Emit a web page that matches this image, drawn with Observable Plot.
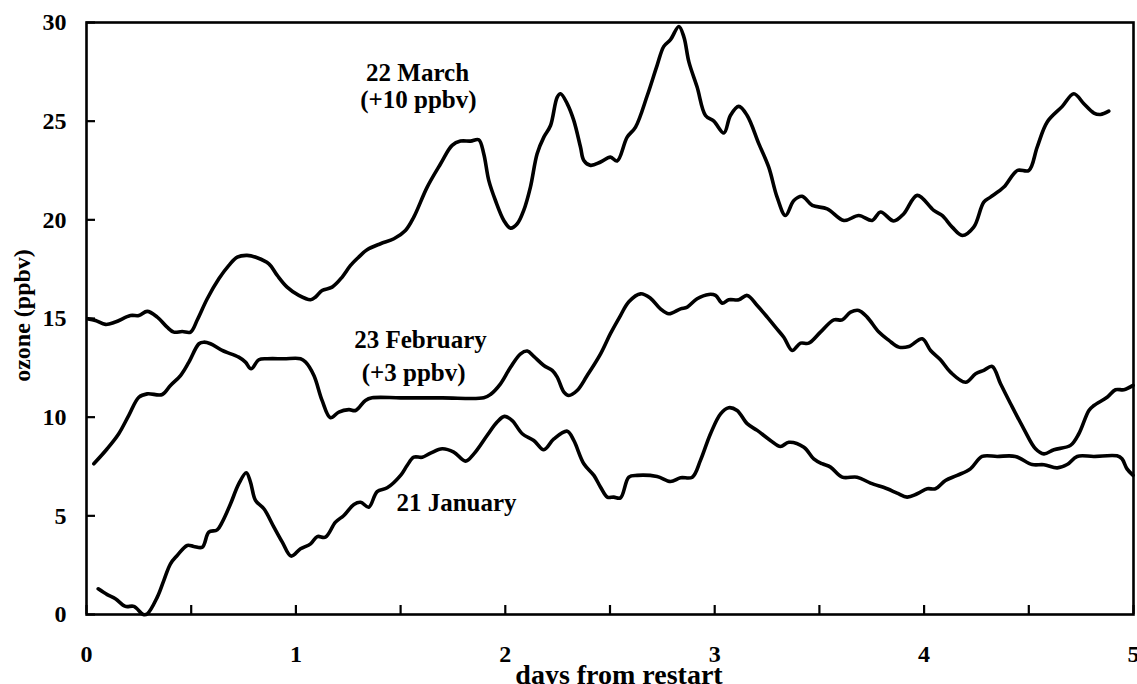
<!DOCTYPE html>
<html>
<head>
<meta charset="utf-8">
<script src="https://cdn.jsdelivr.net/npm/d3@7"></script>
<script src="https://cdn.jsdelivr.net/npm/@observablehq/plot@0.6"></script>
<style>
  html, body { margin: 0; padding: 0; background: #fff; }
  #chart svg { display: block; }
</style>
</head>
<body>
<div id="chart"></div>
<script>
// Days from restart (x) and ozone in ppbv (y), as plotted (Feb shifted +3, Mar shifted +10)
const janX = [0.056,0.099,0.138,0.186,0.226,0.271,0.290,0.338,0.369,0.401,0.433,0.481,0.512,0.553,0.584,0.624,0.648,0.688,0.727,0.763,0.783,0.807,0.847,0.895,0.935,0.977,1.022,1.070,1.102,1.141,1.189,1.229,1.277,1.309,1.348,1.388,1.436,1.500,1.531,1.563,1.603,1.643,1.699,1.754,1.810,1.850,1.913,1.961,1.996,2.033,2.081,2.136,2.184,2.232,2.296,2.327,2.375,2.423,2.455,2.487,2.518,2.550,2.590,2.630,2.725,2.789,2.837,2.893,2.932,2.980,3.028,3.067,3.107,3.155,3.203,3.266,3.314,3.354,3.426,3.473,3.513,3.553,3.609,3.680,3.744,3.824,3.871,3.919,3.967,4.015,4.054,4.102,4.158,4.221,4.277,4.349,4.436,4.516,4.572,4.636,4.683,4.731,4.811,4.921,4.945,4.969,4.998];
const janY = [1.30,1.01,0.80,0.41,0.41,0.00,0.03,0.88,1.72,2.57,2.99,3.50,3.45,3.41,4.17,4.29,4.68,5.61,6.62,7.18,6.71,5.78,5.36,4.43,3.67,2.96,3.33,3.58,3.95,3.92,4.68,5.02,5.58,5.69,5.44,6.23,6.42,7.05,7.55,7.97,7.97,8.18,8.40,8.23,7.77,8.14,9.07,9.75,10.04,9.83,9.16,8.82,8.35,8.90,9.29,8.82,7.64,7.05,6.45,5.95,5.95,5.91,6.96,7.05,6.99,6.74,6.93,6.96,7.81,9.16,10.17,10.48,10.34,9.67,9.33,8.82,8.51,8.73,8.48,7.89,7.64,7.47,6.96,6.96,6.66,6.37,6.15,5.95,6.12,6.37,6.37,6.79,7.05,7.38,8.01,8.01,8.01,7.60,7.59,7.43,7.60,8.01,8.01,8.04,7.89,7.38,7.05];

const febX = [0.035,0.099,0.154,0.202,0.250,0.290,0.362,0.401,0.449,0.489,0.537,0.560,0.592,0.648,0.727,0.759,0.786,0.823,0.863,0.942,1.022,1.046,1.086,1.125,1.165,1.205,1.253,1.285,1.332,1.364,1.500,1.700,1.897,1.929,1.977,2.025,2.073,2.105,2.136,2.184,2.224,2.248,2.280,2.303,2.343,2.391,2.455,2.502,2.550,2.590,2.646,2.693,2.741,2.781,2.837,2.869,2.916,2.972,3.004,3.036,3.067,3.115,3.155,3.203,3.251,3.290,3.330,3.370,3.410,3.449,3.505,3.569,3.609,3.649,3.688,3.728,3.784,3.832,3.879,3.927,3.991,4.031,4.078,4.126,4.198,4.246,4.285,4.325,4.365,4.413,4.476,4.532,4.572,4.620,4.699,4.739,4.787,4.811,4.874,4.914,4.954,4.998];
const febY = [7.64,8.40,9.16,10.09,11.01,11.18,11.15,11.61,12.11,12.79,13.72,13.80,13.72,13.38,13.04,12.79,12.45,12.91,12.96,12.96,12.96,12.79,12.11,10.85,9.97,10.26,10.38,10.34,10.85,10.98,10.98,10.98,10.98,11.15,11.69,12.53,13.21,13.35,13.08,12.62,12.37,12.03,11.27,11.10,11.35,12.11,13.21,14.23,15.15,15.85,16.25,16.03,15.49,15.24,15.49,15.58,16.00,16.22,16.17,15.78,15.95,15.95,16.17,15.66,15.07,14.56,14.05,13.38,13.75,13.75,14.31,14.93,14.93,15.32,15.41,15.07,14.31,13.89,13.55,13.58,13.97,13.38,12.91,12.28,11.77,12.20,12.37,12.57,11.69,10.68,9.41,8.40,8.14,8.35,8.57,9.16,10.34,10.59,11.01,11.39,11.39,11.61];

const marX = [0.008,0.043,0.091,0.138,0.210,0.250,0.290,0.338,0.385,0.417,0.457,0.497,0.530,0.576,0.632,0.680,0.720,0.767,0.815,0.871,0.911,0.958,1.014,1.070,1.094,1.125,1.173,1.221,1.261,1.300,1.340,1.404,1.468,1.523,1.563,1.627,1.691,1.746,1.786,1.834,1.873,1.897,1.921,1.953,1.993,2.025,2.057,2.088,2.120,2.152,2.184,2.216,2.248,2.264,2.296,2.327,2.359,2.375,2.407,2.455,2.502,2.534,2.582,2.622,2.678,2.725,2.757,2.789,2.829,2.853,2.877,2.916,2.956,2.996,3.044,3.075,3.115,3.155,3.211,3.258,3.298,3.338,3.378,3.418,3.466,3.537,3.617,3.688,3.752,3.792,3.855,3.903,3.967,4.046,4.086,4.134,4.182,4.237,4.285,4.317,4.381,4.445,4.500,4.540,4.588,4.660,4.715,4.763,4.811,4.842,4.882];
const marY = [14.98,14.90,14.70,14.82,15.15,15.15,15.36,15.07,14.56,14.31,14.34,14.31,14.95,15.99,17.01,17.69,18.11,18.20,18.08,17.77,17.18,16.59,16.17,15.95,16.09,16.42,16.59,17.10,17.69,18.11,18.48,18.79,19.04,19.46,20.14,21.66,22.84,23.77,23.99,23.99,24.06,23.35,22.00,20.98,19.97,19.58,19.80,20.48,21.66,23.35,24.19,24.78,26.22,26.39,25.88,25.04,23.69,23.01,22.76,22.93,23.18,22.98,24.19,24.70,26.30,27.83,28.79,29.13,29.80,29.26,27.99,26.73,25.29,25.00,24.40,25.29,25.75,25.29,23.85,22.67,21.15,20.22,20.98,21.19,20.73,20.56,19.97,20.22,19.97,20.40,19.94,20.31,21.24,20.48,20.22,19.63,19.21,19.63,20.90,21.15,21.66,22.50,22.50,23.69,24.96,25.75,26.39,25.88,25.41,25.34,25.51];

const seriesNames = ["21 January", "23 February", "22 March"];

// Axis ticks and labels
const xTickVals = [0, 0.5, 1, 1.5, 2, 2.5, 3, 3.5, 4, 4.5, 5];
const xLabelVals = [0, 1, 2, 3, 4, 5];
const yTickVals = [0, 5, 10, 15, 20, 25, 30];

// In-plot annotations (one entry per text line)
const noteText = ["22 March", "(+10 ppbv)", "23 February", "(+3 ppbv)", "21 January"];
const noteX = [1.581, 1.585, 1.595, 1.562, 1.767];
const noteY = [27.03, 25.65, 13.48, 11.85, 5.22];

const xTitle = "days from restart";
const yTitle = "ozone (ppbv)";

const lineData = [];
[[janX, janY], [febX, febY], [marX, marY]].forEach(([xs, ys], i) => {
  xs.forEach((x, j) => lineData.push({series: seriesNames[i], x, y: ys[j]}));
});
const notes = noteText.map((t, i) => ({t, x: noteX[i], y: noteY[i]}));

const W = 1137, H = 684, ML = 86, MR = 4, MT = 22, MB = 70;
const xDomain = [0, 5], yDomain = [0, 30];
const frameW = W - ML - MR, frameH = H - MT - MB, tickLen = 9;
// tick length converted to data units so the rules are placed through the scales
const xTickLenData = tickLen * (xDomain[1] - xDomain[0]) / frameW;
const yTickLenData = tickLen * (yDomain[1] - yDomain[0]) / frameH;

const chart = Plot.plot({
  width: W,
  height: H,
  marginLeft: ML,
  marginRight: MR,
  marginTop: MT,
  marginBottom: MB,
  style: {fontFamily: "'Liberation Serif', 'Times New Roman', serif", fontWeight: "bold", fontSize: "24px", background: "white", color: "black"},
  x: {domain: xDomain},
  y: {domain: yDomain},
  marks: [
    Plot.line(lineData, {x: "x", y: "y", z: "series", curve: "catmull-rom", stroke: "black", strokeWidth: 3.6, strokeLinejoin: "round", strokeLinecap: "round"}),
    Plot.frame({stroke: "black", strokeWidth: 2.6}),
    // inward tick marks
    Plot.ruleX(xTickVals, {x: d => d, y1: yDomain[0], y2: yDomain[0] + yTickLenData, stroke: "black", strokeWidth: 2.2}),
    Plot.ruleY(yTickVals, {y: d => d, x1: xDomain[0], x2: xDomain[0] + xTickLenData, stroke: "black", strokeWidth: 2.2}),
    // tick labels
    Plot.axisX(xLabelVals, {tickSize: 0, tickPadding: 30, tickFormat: d3.format("d"), fontSize: 24, fontWeight: "bold", label: null}),
    Plot.axisY(yTickVals, {tickSize: 0, tickPadding: 20, tickFormat: d3.format("d"), fontSize: 24, fontWeight: "bold", label: null}),
    Plot.text(notes, {x: "x", y: "y", text: "t", textAnchor: "middle", lineAnchor: "bottom", fontSize: 25, fontWeight: "bold", fill: "black"}),
    Plot.text([xTitle], {text: d => d, frameAnchor: "bottom", textAnchor: "middle", lineAnchor: "bottom", dy: 69, dx: 9, fontSize: 28, fontWeight: "bold", fill: "black"}),
    Plot.text([yTitle], {text: d => d, frameAnchor: "left", textAnchor: "middle", rotate: -90, lineAnchor: "bottom", dx: -57, dy: -3, fontSize: 24, fontWeight: "bold", fill: "black"})
  ]
});
document.getElementById("chart").appendChild(chart);
</script>
</body>
</html>
